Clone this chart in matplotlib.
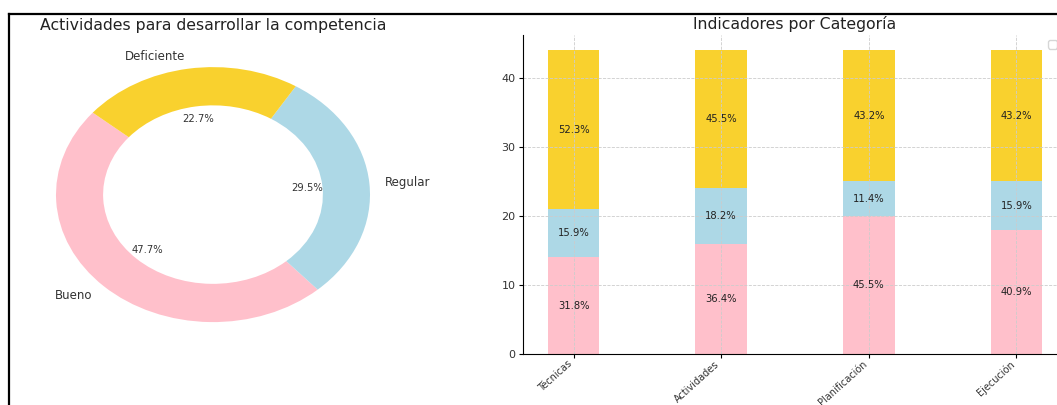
import numpy as np
import matplotlib
matplotlib.use('Agg')
import matplotlib.pyplot as plt
from matplotlib.lines import Line2D

# donut data
niveles = ['Bueno', 'Regular', 'Deficiente']
conteo = [21, 13, 10]
colores = ['#FFC0CB', '#ADD8E6', '#F9D12E']

# stacked bars data
categorias = ['Técnicas', 'Actividades', 'Planificación', 'Ejecución']
bueno = [14, 16, 20, 18]
regular = [7, 8, 5, 7]
deficiente = [23, 20, 19, 19]

fig = plt.figure(figsize=(10.57, 4.05), dpi=100)

# border of the original figure (cropped screenshot)
W, H = 1057, 405
fig.add_artist(Line2D([9/W, 1.01], [1-14/H, 1-14/H], color='black', lw=1.6, transform=fig.transFigure))
fig.add_artist(Line2D([9/W, 9/W], [1-14/H, -0.01], color='black', lw=1.6, transform=fig.transFigure))

# donut
ax1 = fig.add_axes([16.75/W, 0.126, 392.5/W, 0.787])
wedges, texts, autotexts = ax1.pie(conteo, labels=niveles, colors=colores, autopct='%1.1f%%',
                                   startangle=140, wedgeprops=dict(width=0.3),
                                   textprops=dict(color='#333333', fontsize=8.5))
for t in autotexts:
    t.set_fontsize(7.2)
ax1.set_aspect('auto')
ax1.set_xlim(-1.25, 1.25)
ax1.set_ylim(-1.25, 1.25)
ax1.set_title('Actividades para desarrollar la competencia', fontsize=11.3, color='#222222', pad=4)

# stacked bars
ax2 = fig.add_axes([523/W, 0.1259, 544/W, 0.7877])
x = np.arange(len(categorias))
bw = 0.35
ax2.bar(x, bueno, bw, color=colores[0])
ax2.bar(x, regular, bw, bottom=bueno, color=colores[1])
base = np.array(bueno) + np.array(regular)
ax2.bar(x, deficiente, bw, bottom=base, color=colores[2])

totales = np.array(bueno) + np.array(regular) + np.array(deficiente)
for i in range(len(categorias)):
    y0 = 0
    for serie in (bueno, regular, deficiente):
        v = serie[i]
        ax2.text(x[i], y0 + v/2, f'{v/totales[i]*100:.1f}%', ha='center', va='center',
                 fontsize=7.2, color='#222222')
        y0 += v

ax2.set_xticks(x)
ax2.set_xticklabels(categorias, rotation=42, ha='right', fontsize=7, color='#333333')
ax2.tick_params(axis='x', length=3, pad=0.5)
ax2.tick_params(axis='y', labelsize=8, labelcolor='#333333', length=3, pad=2.5)
ax2.grid(True, linestyle='--', color='#cccccc', linewidth=0.6)
ax2.spines['top'].set_visible(False)
ax2.spines['right'].set_visible(False)
ax2.set_title('Indicadores por Categoría', fontsize=11.3, color='#222222', pad=4)
ax2.legend(handles=[], loc='upper left', bbox_to_anchor=(0.965, 0.985), fontsize=8,
           borderaxespad=0, framealpha=0.8)

fig.savefig('out.png', dpi=100)
